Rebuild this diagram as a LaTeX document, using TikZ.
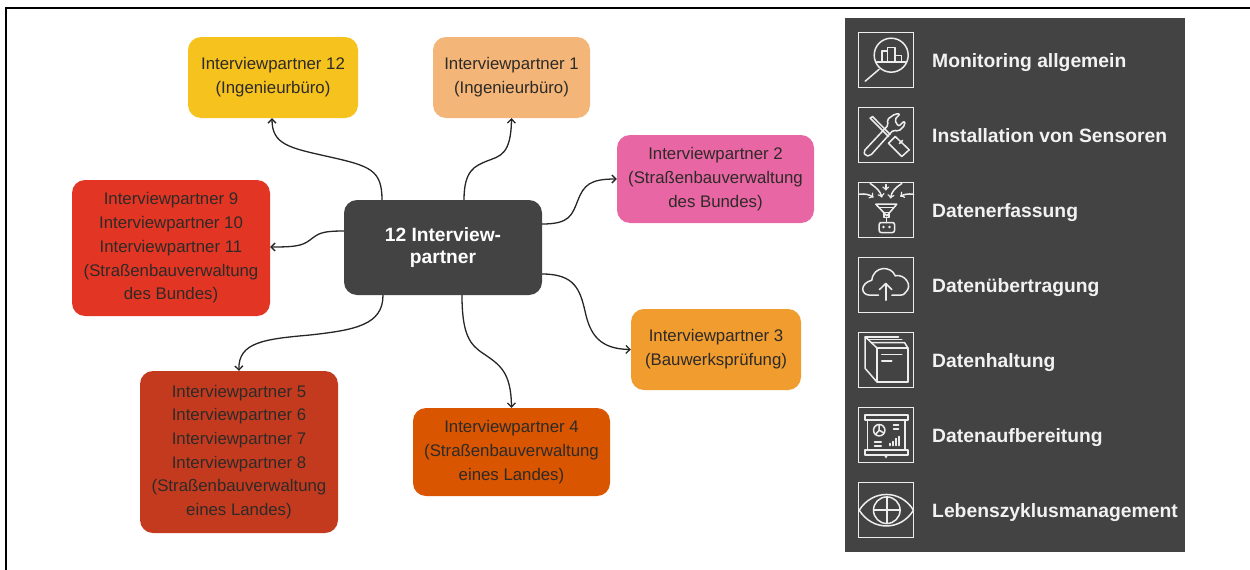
\documentclass[tikz,border=0pt]{standalone}
\usepackage{fontspec}
\usetikzlibrary{arrows.meta}
\setmainfont{Liberation Sans}
\definecolor{darkgrey}{HTML}{434343}
\definecolor{textgrey}{HTML}{2E2A28}
\definecolor{iconwhite}{HTML}{EDEDED}
\tikzstyle{partnerbox} = [rectangle, rounded corners=13pt, inner sep=0pt, align=center,
    text=textgrey, font=\fontsize{16.8}{23.7}\selectfont]
\tikzstyle{hubbox} = [rectangle, rounded corners=13pt, inner sep=0pt, align=center, fill=darkgrey,
    text=white, font=\fontsize{19.2}{22}\selectfont\bfseries]
\tikzstyle{panellabel} = [anchor=west, inner sep=0pt, text=white!95!black, text height=14pt, text depth=4pt,
    font=\fontsize{19.3}{23}\selectfont\bfseries]
\tikzstyle{iconframe} = [rectangle, draw=iconwhite, line width=1.8pt, inner sep=0pt,
    minimum width=55pt, minimum height=55pt]
\tikzstyle{iconline} = [draw=iconwhite, line width=1.5pt, line join=round, line cap=round]
\tikzstyle{link} = [draw=black!85, line width=1.3pt, -{Straight Barb[length=4pt,width=8pt]}]

\begin{document}
\begin{tikzpicture}[x=1pt, y=-1pt]
\useasboundingbox (0,0) rectangle (1250,570);
\draw[black, line width=1.5pt] (6,570) -- (6,8) -- (1250,8);

% mind map
\node[hubbox, minimum width=198pt, minimum height=95pt] (hub) at (443,247.5) {12 Interview-\\partner};
\node[partnerbox, fill={rgb,255:red,245;green,194;blue,30}, minimum width=170pt, minimum height=81pt] (ip12) at (273,77.5) {Interviewpartner 12\\(Ingenieurbüro)};
\node[partnerbox, fill={rgb,255:red,244;green,182;blue,120}, minimum width=157pt, minimum height=81pt] (ip1) at (511.5,77.5) {Interviewpartner 1\\(Ingenieurbüro)};
\node[partnerbox, fill={rgb,255:red,232;green,102;blue,163}, minimum width=197pt, minimum height=88pt] (ip2) at (715.5,179) {Interviewpartner 2\\(Straßenbauverwaltung\\des Bundes)};
\node[partnerbox, fill={rgb,255:red,240;green,156;blue,46}, minimum width=170pt, minimum height=81pt] (ip3) at (716,349.5) {Interviewpartner 3\\(Bauwerksprüfung)};
\node[partnerbox, fill={rgb,255:red,217;green,85;blue,0}, minimum width=197pt, minimum height=88pt] (ip4) at (511.5,452) {Interviewpartner 4\\(Straßenbauverwaltung\\eines Landes)};
\node[partnerbox, fill={rgb,255:red,196;green,58;blue,30}, minimum width=198pt, minimum height=162pt] (ip5) at (239,452) {Interviewpartner 5\\Interviewpartner 6\\Interviewpartner 7\\Interviewpartner 8\\(Straßenbauverwaltung\\eines Landes)};
\node[partnerbox, fill={rgb,255:red,227;green,53;blue,35}, minimum width=198pt, minimum height=136pt] (ip9) at (171,248) {Interviewpartner 9\\Interviewpartner 10\\Interviewpartner 11\\(Straßenbauverwaltung\\des Bundes)};

\draw[link] ([xshift=-61pt]hub.north) .. controls (382,170) and (370,166) .. (330,157) .. controls (290,148) and (272,145) .. ([xshift=-1pt]ip12.south);
\draw[link] ([xshift=21pt]hub.north) .. controls (464,170) and (475,166) .. (487,161) .. controls (500,156) and (511,155) .. (ip1.south);
\draw[link] ([yshift=23.5pt]hub.east) .. controls (570,224) and (572,215) .. (578,200) .. controls (584,185) and (590,179) .. (ip2.west);
\draw[link] ([yshift=-26.5pt]hub.east) .. controls (575,274) and (580,290) .. (585,311) .. controls (590,335) and (600,349) .. (ip3.west);
\draw[link] ([xshift=19pt]hub.south) .. controls (462,335) and (470,345) .. (484,354) .. controls (500,365) and (511,372) .. (ip4.north);
\draw[link] ([xshift=-60pt]hub.south) .. controls (383,325) and (355,330) .. (310,335) .. controls (265,339) and (238,342) .. (ip5.north);
\draw[link] ([yshift=16.5pt]hub.west) .. controls (320,231) and (318,234) .. (310,240) .. controls (302,246) and (295,247) .. ([yshift=1pt]ip9.east);

% legend panel
\fill[darkgrey] (845,18) rectangle (1185,552);
\foreach \ypos/\ilabel [count=\i] in {60/Monitoring allgemein, 135/Installation von Sensoren, 210/Datenerfassung, 285/Datenübertragung, 360/Datenhaltung, 435/Datenaufbereitung, 510/Lebenszyklusmanagement}{
    \node[iconframe] (frame\i) at (886,\ypos) {};
    \node[panellabel] (label\i) at (932,\ypos+2) {\ilabel};
}

% monitoring
\begin{scope}[shift={(858.5,32.5)}]
\draw[iconline] (32.7,22.7) circle (17pt);
\draw[iconline] (20.7,36.7) -- (6.7,48.7);
\draw[iconline] (18,29.3) -- (47,29.3);
\draw[iconline] (23.5,29.3) -- (23.5,18.7) -- (29,18.7) -- (29,29.3);
\draw[iconline] (29,18.7) -- (29,15) -- (36.5,15) -- (36.5,29.3);
\draw[iconline] (36.5,23) -- (43,23) -- (43,29.3);
\end{scope}

% installation
\begin{scope}[shift={(858.5,107.5)}]
\draw[iconline] (11.7,10.7) -- (14,9) -- (31.7,27);
\draw[iconline] (11.7,10.7) -- (30,29);
\draw[iconline] (30,35.7) -- (36.7,29) -- (50.7,42.3) -- (43.3,49) -- cycle;
\draw[iconline] (41,36) -- (44,33);
\draw[iconline, rounded corners=2pt] (5,44) -- (30,17.3) -- (28.3,12.3) -- (36.7,6.3) -- (41.7,6.3) -- (36,12.3) -- (40,19) -- (46,13.3) -- (46.7,17.3) -- (40,24) -- (35,22.3) -- (11.7,48.3) -- (6.7,48.3) -- cycle;
\end{scope}

% data capture
\begin{scope}[shift={(858.5,182.5)}]
\draw[iconline] (17.3,21.7) -- (38.3,21.7) -- (28.3,33.3) -- cycle;
\draw[iconline] (21,25) -- (35,25);
\draw[iconline] (25.5,30) rectangle (30.5,35);
\draw[iconline] (28,35) -- (28,40);
\draw[iconline, rounded corners=2pt] (20.7,40) rectangle (36,50);
\fill[iconwhite] (25,44.5) circle (1.4pt) (31,44.5) circle (1.4pt);
\draw[iconline, ->, >=to] (27.3,2) -- (27.3,8);
\draw[iconline, ->, >=to] (11.7,1) .. controls (18,5) and (22,9) .. (23.3,15);
\draw[iconline, ->, >=to] (43.3,1) .. controls (37,5) and (33,9) .. (32,16);
\draw[iconline, ->, >=to] (1,11.7) .. controls (6,11) and (11,12) .. (15,15);
\draw[iconline, ->, >=to] (55,11.7) .. controls (50,11) and (45,12) .. (41.7,14);
\end{scope}

% data transfer
\begin{scope}[shift={(858.5,257.5)}]
\draw[iconline] (20,37.7) -- (11.7,37.7) .. controls (2,37.7) and (1,26) .. (13.3,22.7) .. controls (15,8) and (33,8) .. (36.7,18.3) .. controls (46,16) and (55,28) .. (47,35) .. controls (46,37) and (44,37.7) .. (41.7,37.7) -- (33.3,37.7);
\draw[iconline] (27.3,42.7) -- (27.3,26);
\draw[iconline] (21,32) -- (27.3,26) -- (33.3,32);
\end{scope}

% data storage
\begin{scope}[shift={(858.5,332.5)}]
\draw[iconline] (18.3,15.3) rectangle (49.3,49.3);
\draw[iconline] (6.7,4.3) -- (18.3,15.3);
\draw[iconline] (6.7,4.3) -- (6.7,36) -- (18.3,49.3);
\draw[iconline] (6.7,4.3) -- (40,4.3);
\draw[iconline] (10,7) -- (43.3,7);
\draw[iconline] (13.3,10) -- (46,10) -- (49.3,15.3);
\draw[iconline] (23.3,22) -- (43.3,22);
\draw[iconline] (23.3,28.7) -- (33.3,28.7);
\end{scope}

% data preparation
\begin{scope}[shift={(858.5,407.5)}]
\draw[iconline] (6.7,7.7) rectangle (49.3,12.7);
\draw[iconline] (6.7,42.7) rectangle (49.3,47.7);
\draw[iconline] (9,12.7) -- (9,42.7);
\draw[iconline] (46.7,12.7) -- (46.7,42.7);
\draw[iconline] (20.7,22.7) circle (5.7pt);
\draw[iconline] (20.7,22.7) -- (20.7,17) (20.7,22.7) -- (25.5,25.5) (20.7,22.7) -- (17,27);
\draw[iconline] (35,17.7) -- (40,17.7) (35,21.7) -- (40,21.7);
\draw[iconline] (16,34.3) -- (22.7,34.3) (16,38.3) -- (22.7,38.3);
\draw[iconline] (31.7,38) -- (31.7,36) (34.7,38) -- (34.7,34) (37.7,38) -- (37.7,31) (40.7,38) -- (40.7,29);
\fill[iconwhite] (25.5,47.7) -- (29.5,47.7) -- (27.5,51) -- cycle;
\end{scope}

% life cycle
\begin{scope}[shift={(858.5,482.5)}]
\draw[iconline] (0.7,27.7) .. controls (14,6.7) and (42,6.7) .. (55,27.7) .. controls (42,48.7) and (14,48.7) .. (0.7,27.7) -- cycle;
\draw[iconline] (28.3,27.7) circle (13.3pt);
\draw[iconline] (15,27.7) -- (41.6,27.7) (28.3,14.4) -- (28.3,41);
\end{scope}
\end{tikzpicture}
\end{document}
